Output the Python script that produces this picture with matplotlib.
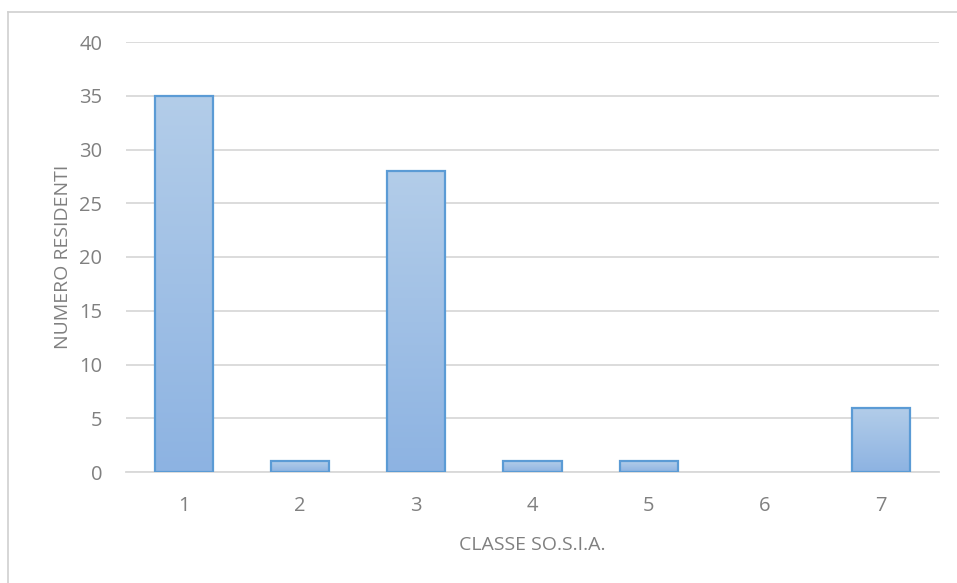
import numpy as np
import matplotlib
matplotlib.use("Agg")
import matplotlib.pyplot as plt
from matplotlib.colors import LinearSegmentedColormap
from matplotlib.lines import Line2D

# data
classes = ["1", "2", "3", "4", "5", "6", "7"]
residents = [35, 1, 28, 1, 1, 0, 6]
y_ticks = [0, 5, 10, 15, 20, 25, 30, 35, 40]

plt.rcParams['font.family'] = ['Open Sans', 'DejaVu Sans']

fig = plt.figure(figsize=(9.57, 5.83), dpi=100)
W, H = 957, 583
ax = fig.add_axes([126 / W, 1 - 472 / H, (939 - 126) / W, (472 - 42) / H])

grey_text = '#808080'
grid_col = '#d9d9d9'

x = np.arange(len(classes))
bar_w = 0.5

# gradient fill for the bars (lighter at the top)
grad = LinearSegmentedColormap.from_list('g', ['#8db3e2', '#b3cde9'])
gimg = np.linspace(0, 1, 256).reshape(-1, 1)

bars = ax.bar(x, residents, width=bar_w, color='none', edgecolor='#5b9bd5',
              linewidth=1.6, zorder=3)
for b in bars:
    h = b.get_height()
    if h <= 0:
        b.set_visible(False)
        continue
    x0 = b.get_x()
    im = ax.imshow(gimg, cmap=grad, aspect='auto', origin='lower',
                   extent=[x0, x0 + bar_w, 0, h], zorder=2)
    im.set_clip_path(b)

ax.set_xlim(-0.5, len(classes) - 0.5)
ax.set_ylim(0, 40)
ax.set_yticks(y_ticks)
ax.set_xticks(x)
ax.set_xticklabels(classes)

ax.yaxis.grid(True, color=grid_col, linewidth=1.3, zorder=0)
ax.set_axisbelow(True)
for s in ['top', 'right', 'left']:
    ax.spines[s].set_visible(False)
ax.spines['bottom'].set_color(grid_col)
ax.spines['bottom'].set_linewidth(1.3)

ax.tick_params(axis='both', length=0, labelsize=14.5, colors=grey_text)
ax.tick_params(axis='y', pad=17)
ax.tick_params(axis='x', pad=17)

ax.set_ylabel('NUMERO RESIDENTI', fontsize=14, color=grey_text, labelpad=5)
ax.set_xlabel('CLASSE SO.S.I.A.', fontsize=14, color=grey_text, labelpad=15)

# chart area border (top and left visible in the reference)
fig.add_artist(Line2D([8 / W, 8 / W], [0, 1 - 12 / H], color='#d0d0d0',
                      linewidth=1.2, transform=fig.transFigure))
fig.add_artist(Line2D([8 / W, 1], [1 - 12 / H, 1 - 12 / H], color='#d0d0d0',
                      linewidth=1.2, transform=fig.transFigure))

fig.savefig('out.png', dpi=100, facecolor='white')
